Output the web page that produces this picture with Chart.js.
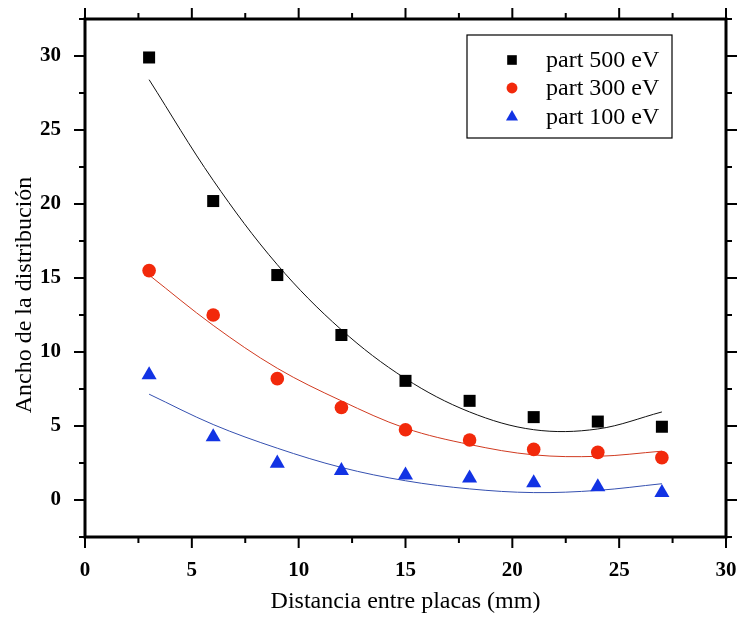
<!DOCTYPE html>
<html>
<head>
<meta charset="utf-8">
<script src="https://cdn.jsdelivr.net/npm/chart.js@4.4.1/dist/chart.umd.min.js"></script>
<style>
  html, body { margin: 0; padding: 0; background: #fff; }
  #wrap { width: 740px; height: 619px; }
</style>
</head>
<body>
<div id="wrap"><canvas id="chart" width="740" height="619"></canvas></div>
<script>
const distances = [3, 6, 9, 12, 15, 18, 21, 24, 27];
const part500 = [29.9, 20.2, 15.2, 11.15, 8.05, 6.7, 5.6, 5.3, 4.95];
const part300 = [15.5, 12.5, 8.2, 6.25, 4.75, 4.05, 3.42, 3.22, 2.86];
const part100 = [8.45, 4.26, 2.48, 1.98, 1.68, 1.48, 1.15, 0.88, 0.5];

// fitted curves
const fit500 = [28.4, 21.6, 15.9, 11.5, 8.2, 5.95, 4.75, 4.8, 5.95];
const fit300 = [15.2, 11.8, 8.9, 6.7, 4.85, 3.75, 3.05, 2.95, 3.3];
const fit100 = [7.15, 5.1, 3.5, 2.2, 1.3, 0.75, 0.5, 0.65, 1.1];

const xTicks = [0, 5, 10, 15, 20, 25, 30];
const yTicks = [0, 5, 10, 15, 20, 25, 30];

const serif = "'Liberation Serif', 'DejaVu Serif', serif";
const pts = (ys) => distances.map((x, i) => ({ x: x, y: ys[i] }));

function fitLine(data, color) {
  return { type: "line", data: pts(data), borderColor: color, borderWidth: 1, pointRadius: 0,
           fill: false, tension: 0.35, order: 2, isFit: true };
}

// chart area is fixed, so drop the padding chart.js adds for tick labels
function fixSize(prop, size) {
  return (s) => {
    s[prop] = size;
    s.paddingTop = 0; s.paddingBottom = 0; s.paddingLeft = 0; s.paddingRight = 0;
  };
}

// axis frame, ticks, titles and legend drawn on the library's scales
const framePlugin = {
  id: "frame",
  afterDraw(chart) {
    const ctx = chart.ctx;
    const a = chart.chartArea;
    const xs = chart.scales.x, ys = chart.scales.y;
    ctx.save();
    ctx.strokeStyle = "#000";
    ctx.lineWidth = 3;
    ctx.strokeRect(a.left, a.top, a.right - a.left, a.bottom - a.top);
    ctx.lineWidth = 2;
    ctx.beginPath();
    for (let v = 0; v <= 30; v += 2.5) {
      const len = v % 5 === 0 ? 11 : 6;
      const px = xs.getPixelForValue(v);
      ctx.moveTo(px, a.bottom); ctx.lineTo(px, a.bottom + len);
      ctx.moveTo(px, a.top); ctx.lineTo(px, a.top - len);
    }
    for (let v = -2.5; v <= 32.5; v += 2.5) {
      const len = v % 5 === 0 ? 11 : 6;
      const py = ys.getPixelForValue(v);
      ctx.moveTo(a.left, py); ctx.lineTo(a.left - len, py);
      ctx.moveTo(a.right, py); ctx.lineTo(a.right + len, py);
    }
    ctx.stroke();

    ctx.fillStyle = "#000";
    ctx.font = "24px " + serif;
    ctx.textAlign = "center";
    ctx.textBaseline = "middle";
    ctx.fillText("Distancia entre placas (mm)", (a.left + a.right) / 2, 602);
    ctx.translate(25, 295);
    ctx.rotate(-Math.PI / 2);
    ctx.fillText("Ancho de la distribución", 0, 0);
    ctx.restore();

    const box = { x: 467, y: 35, w: 205, h: 103 };
    ctx.save();
    ctx.strokeStyle = "#000";
    ctx.lineWidth = 1.2;
    ctx.strokeRect(box.x, box.y, box.w, box.h);
    ctx.font = "24px " + serif;
    ctx.textBaseline = "middle";
    const rows = [60, 88, 117];
    chart.data.datasets.filter(d => !d.isFit).forEach((d, i) => {
      ctx.fillStyle = d.backgroundColor;
      Chart.helpers.drawPoint(ctx, { pointStyle: d.pointStyle, radius: d.pointRadius * 0.8, borderWidth: 0 }, 512, rows[i]);
      ctx.fillStyle = "#000";
      ctx.fillText(d.label, 546, rows[i] + 1);
    });
    ctx.restore();
  }
};

new Chart(document.getElementById("chart"), {
  type: "scatter",
  data: {
    datasets: [
      { label: "part 500 eV", data: pts(part500), pointStyle: "rect", pointRadius: 8.5, backgroundColor: "#000000", borderWidth: 0, order: 1 },
      { label: "part 300 eV", data: pts(part300), pointStyle: "circle", pointRadius: 6.8, backgroundColor: "#f2290b", borderWidth: 0, order: 1 },
      { label: "part 100 eV", data: pts(part100), pointStyle: "triangle", pointRadius: 8.7, backgroundColor: "#1233e4", borderWidth: 0, order: 1 },
      fitLine(fit500, "#111111"),
      fitLine(fit300, "#d03a20"),
      fitLine(fit100, "#3550b0")
    ]
  },
  options: {
    responsive: false,
    animation: false,
    layout: { padding: 0 },
    plugins: { legend: { display: false }, tooltip: { enabled: false } },
    scales: {
      x: {
        type: "linear", min: 0, max: 30,
        afterFit: fixSize("height", 82),
        afterBuildTicks: (s) => { s.ticks = xTicks.map(v => ({ value: v })); },
        grid: { display: false }, border: { display: false },
        ticks: { padding: 13, color: "#000", font: { family: serif, size: 21, weight: "bold" } }
      },
      xTop: {
        type: "linear", position: "top", min: 0, max: 30,
        afterFit: fixSize("height", 19),
        grid: { display: false }, border: { display: false }, ticks: { display: false }
      },
      y: {
        type: "linear", min: -2.5, max: 32.5,
        afterFit: fixSize("width", 85),
        afterBuildTicks: (s) => { s.ticks = yTicks.map(v => ({ value: v })); },
        grid: { display: false }, border: { display: false },
        ticks: { padding: 16, color: "#000", font: { family: serif, size: 21, weight: "bold" } }
      },
      yRight: {
        type: "linear", position: "right", min: -2.5, max: 32.5,
        afterFit: fixSize("width", 14),
        grid: { display: false }, border: { display: false }, ticks: { display: false }
      }
    }
  },
  plugins: [framePlugin]
});
</script>
</body>
</html>
